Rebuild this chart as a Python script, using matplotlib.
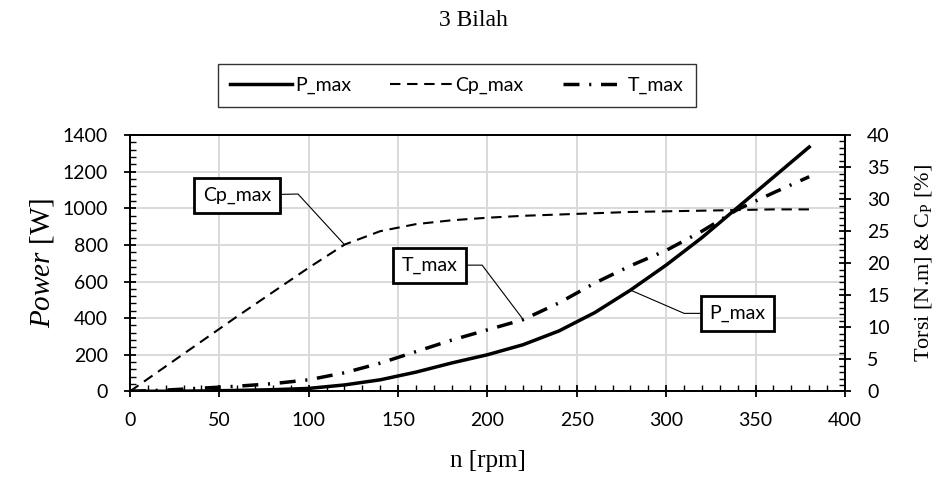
import matplotlib
matplotlib.use("Agg")
import matplotlib.pyplot as plt
from matplotlib.ticker import MultipleLocator

# data (every 20 rpm)
rpm = [0, 20, 40, 60, 80, 100, 120, 140, 160, 180, 200, 220, 240, 260, 280, 300, 320, 340, 360, 380]
p_max = [0, 0.5, 2, 5, 9, 16, 35, 63, 105, 155, 200, 255, 330, 430, 553, 690, 840, 1005, 1170, 1335]
cp_max = [0, 3.9, 7.8, 11.7, 15.5, 19.3, 22.9, 25.0, 26.1, 26.7, 27.1, 27.4, 27.6, 27.8, 28.0, 28.1, 28.2, 28.3, 28.4, 28.4]
t_max = [0, 0.2, 0.5, 0.8, 1.2, 1.8, 2.9, 4.4, 6.2, 8.0, 9.6, 11.2, 13.8, 16.9, 19.6, 22.0, 25.0, 28.4, 31.0, 33.5]

TITLE = "3 Bilah"
SANS = ["Lato", "DejaVu Sans"]
SERIF = ["Liberation Serif", "DejaVu Serif"]

plt.rcParams["font.family"] = SANS
plt.rcParams["mathtext.fontset"] = "custom"
plt.rcParams["mathtext.rm"] = "Liberation Serif"
plt.rcParams["mathtext.it"] = "Liberation Serif:italic"

fig = plt.figure(figsize=(9.46, 4.79), dpi=100)
ax = fig.add_axes([0.1374, 0.183, 0.7558, 0.535])
ax2 = ax.twinx()

ax.set_xlim(0, 400)
ax.set_ylim(0, 1400)
ax2.set_ylim(0, 40)
ax.xaxis.set_major_locator(MultipleLocator(50))
ax.xaxis.set_minor_locator(MultipleLocator(10))
ax.yaxis.set_major_locator(MultipleLocator(200))
ax.yaxis.set_minor_locator(MultipleLocator(40))
ax2.yaxis.set_major_locator(MultipleLocator(5))
ax2.yaxis.set_minor_locator(MultipleLocator(1))

ax.grid(True, which="major", color="#d9d9d9", linewidth=1.4)
ax.set_axisbelow(True)
for a in (ax, ax2):
    for s in a.spines.values():
        s.set_linewidth(1.3)
    a.tick_params(which="major", direction="inout", length=8, width=1.3, labelsize=14, color="black")
    a.tick_params(which="minor", direction="in", length=4, width=1.0)
ax.tick_params(axis="y", which="major", pad=12)
ax.tick_params(axis="x", which="major", pad=11)
ax2.tick_params(axis="y", which="major", pad=12)

# lines
l_p, = ax.plot(rpm, p_max, color="black", linewidth=2.5, label="P_max")
l_cp, = ax2.plot(rpm, cp_max, color="black", linewidth=1.5, linestyle=(0, (5, 3.2)), label="Cp_max")
l_t, = ax2.plot(rpm, t_max, color="black", linewidth=2.5, linestyle=(0, (4.6, 2.8, 0.6, 2.8)), label="T_max")

# axis labels and title
ax.set_xlabel("n [rpm]", fontsize=18, family=SERIF)
ax.xaxis.set_label_coords(0.5, -0.23)
ax.set_ylabel(r"$\mathit{Power}$ [W]", fontsize=21, family=SERIF)
ax.yaxis.set_label_coords(-0.103, 0.5)
ax2.set_ylabel(r"Torsi [N.m] & C$_\mathrm{P}$ [%]", fontsize=16, family=SERIF)
ax2.yaxis.set_label_coords(1.095, 0.5)
fig.text(0.5, 0.957, TITLE, ha="center", va="center", fontsize=17, family=SERIF)

# callout labels (box, elbow, point)
box_kw = dict(boxstyle="square,pad=0.45", facecolor="white", edgecolor="black", linewidth=2)


def callout(text, box_xy, elbow_xy, point_xy, trans):
    ax2.plot([point_xy[0], elbow_xy[0], box_xy[0]], [point_xy[1], elbow_xy[1], box_xy[1]],
             color="black", linewidth=0.8, transform=trans, zorder=5)
    ax2.text(box_xy[0], box_xy[1], text, ha="center", va="center", fontsize=14,
             transform=trans, bbox=box_kw, zorder=6)


callout("Cp_max", (59.9, 30.6), (94, 30.8), (rpm[6], cp_max[6]), ax2.transData)
callout("T_max", (167.5, 19.7), (197, 19.7), (rpm[11], t_max[11]), ax2.transData)
callout("P_max", (339.9, 426), (310, 426), (rpm[14], p_max[14]), ax.transData)

leg = fig.legend(handles=[l_p, l_cp, l_t], loc="center", bbox_to_anchor=(0.483, 0.822),
                 ncol=3, fontsize=14, handlelength=3.2, columnspacing=2.0, handletextpad=0.15,
                 frameon=True, fancybox=False, borderpad=0.65, borderaxespad=0)
leg.get_frame().set_edgecolor("black")
leg.get_frame().set_linewidth(1.0)

fig.savefig("out.png", dpi=100)
